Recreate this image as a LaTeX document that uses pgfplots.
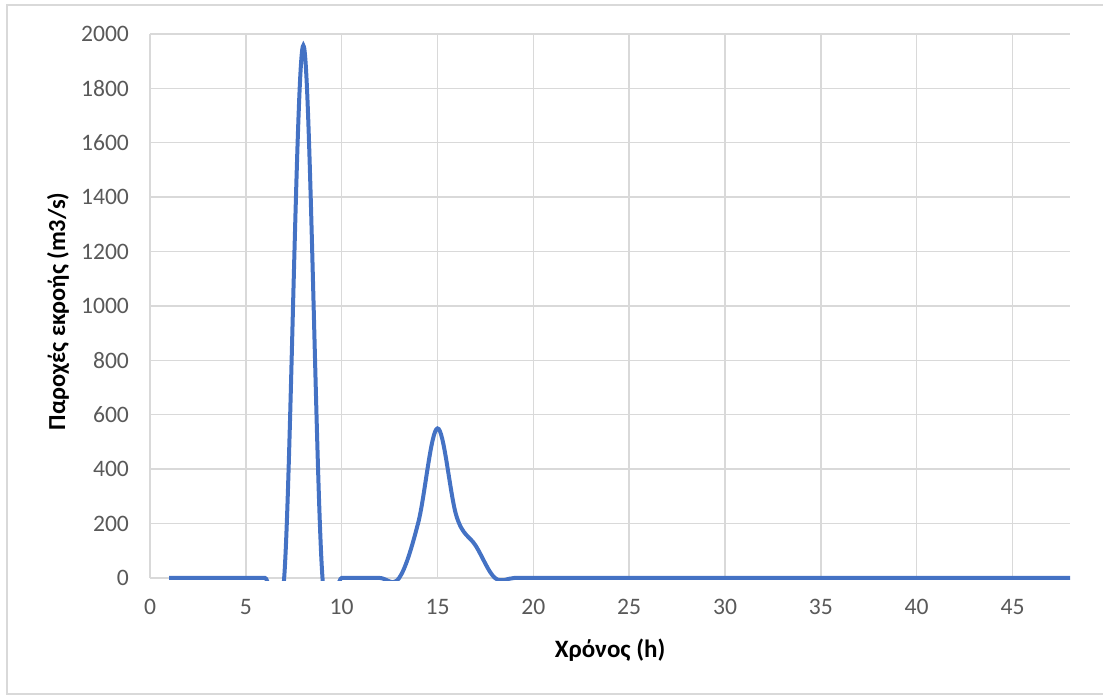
\documentclass[border=0pt]{standalone}
\usepackage{pgfplots}
\pgfplotsset{compat=1.18}
\usepackage{fontspec}
\setmainfont{Carlito}
\definecolor{linecol}{HTML}{4472C4}
\definecolor{gridcol}{HTML}{D9D9D9}
\definecolor{tickcol}{HTML}{595959}
\definecolor{framecol}{HTML}{D9D9D9}
\begin{document}
\begin{tikzpicture}[x=1pt,y=1pt]
\useasboundingbox (0,0) rectangle (551.5,347.5);
\draw[framecol, line width=0.8pt] (3.5,0.5) rectangle (560,345);
\begin{axis}[
  at={(75pt,58.5pt)}, anchor=south west,
  scale only axis, width=460pt, height=272pt,
  xmin=0, xmax=48, ymin=0, ymax=2000,
  xtick={0,5,...,45}, ytick={0,200,...,2000},
  grid=major, major grid style={gridcol, line width=0.7pt},
  axis line style={draw=none},
  tick style={draw=none},
  clip=false,
  /pgf/number format/assume math mode=true,
  /pgf/number format/1000 sep={},
  tick label style={font=\fontsize{11.8}{13}\selectfont, text=tickcol},
  xticklabel shift=7pt, yticklabel shift=7pt,
  xlabel={Χρόνος (h)},
  ylabel={Παροχές εκροής (m3/s)},
  x label style={font=\bfseries\fontsize{12.5}{15}\selectfont, text=black,
    at={(axis description cs:0.5,-0.132)}, anchor=center},
  y label style={font=\bfseries\fontsize{12.2}{14}\selectfont, text=black,
    at={(axis description cs:-0.1,0.49)}, anchor=center, rotate=0},
]
\begin{scope}
\clip (axis cs:0,-9) rectangle (axis cs:48.5,2100);
\addplot[linecol, line width=2pt, smooth, tension=0.6] coordinates {
(1,0) (2,0) (3,0) (4,0) (5,0) (6,0) (7,0) (8,1958) (9,0) (10,0)
(11,0) (12,0) (13,0) (14,205) (15,550) (16,225) (17,118) (18,0) (19,0) (20,0)
(21,0) (22,0) (23,0) (24,0) (25,0) (26,0) (27,0) (28,0) (29,0) (30,0)
(31,0) (32,0) (33,0) (34,0) (35,0) (36,0) (37,0) (38,0) (39,0) (40,0)
(41,0) (42,0) (43,0) (44,0) (45,0) (46,0) (47,0) (48,0)
};
\end{scope}
\end{axis}
\end{tikzpicture}
\end{document}
